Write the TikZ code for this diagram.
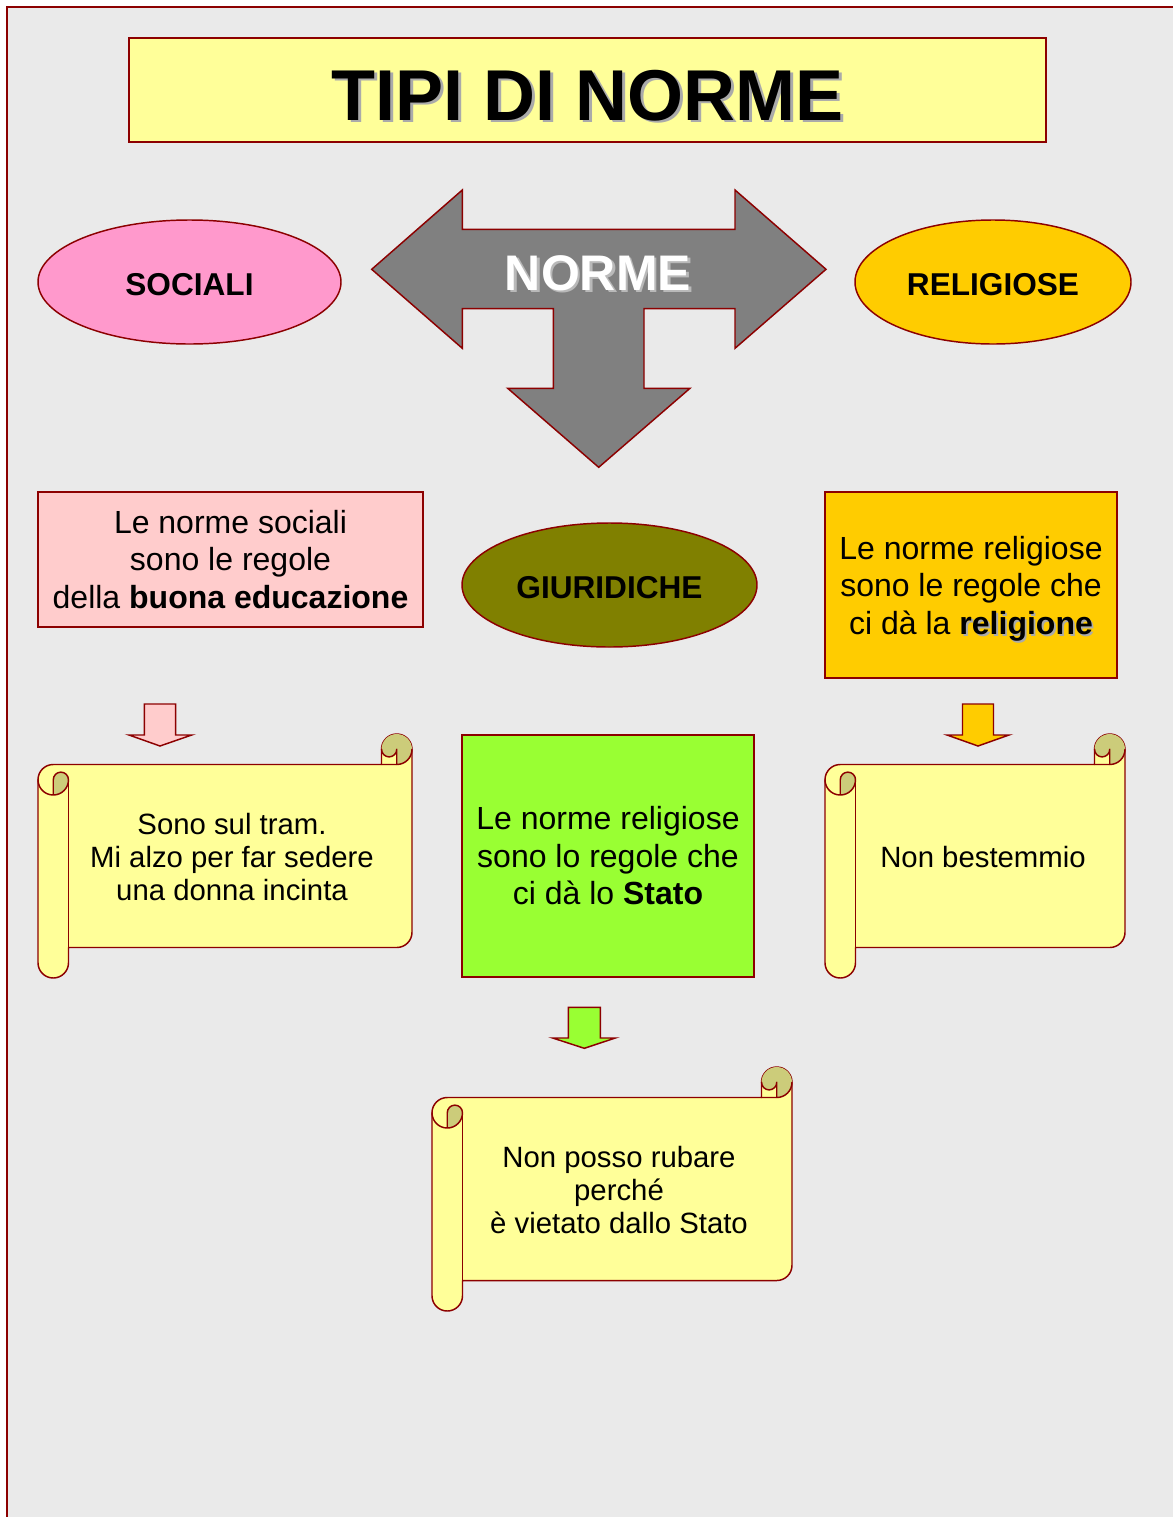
\documentclass[tikz,border=0pt]{standalone}
\usepackage{fontspec}
\setmainfont{Liberation Sans}
\usetikzlibrary{shapes.geometric}
\definecolor{dred}{RGB}{140,0,0}
\definecolor{bggray}{RGB}{234,234,234}
\definecolor{lyellow}{RGB}{255,255,153}
\definecolor{pinkell}{RGB}{255,153,204}
\definecolor{gold}{RGB}{255,204,0}
\definecolor{olivef}{RGB}{128,128,0}
\definecolor{pinkbox}{RGB}{255,204,204}
\definecolor{lgreen}{RGB}{153,255,51}
\definecolor{scrolldark}{RGB}{204,204,122}
\definecolor{normegray}{RGB}{128,128,128}
\definecolor{shadowA}{RGB}{170,170,170}
\definecolor{shadowB}{RGB}{185,185,185}
\newcommand\shd[3]{\makebox[0pt][l]{\kern#3\raisebox{-#3}[0pt][0pt]{\color{#2}#1}}#1}
\tikzset{
  outl/.style={draw=dred, line width=1.1pt, line join=miter},
  boxnode/.style={outl, rectangle, inner sep=0pt, align=center, font=\fontsize{24pt}{28.1pt}\selectfont},
  ellnode/.style={outl, ellipse, inner sep=0pt, text height=20pt, text depth=0pt, font=\fontsize{23.7pt}{28pt}\selectfont\bfseries},
  scrolltext/.style={align=center, inner sep=0pt, font=\fontsize{22pt}{25.1pt}\selectfont},
  scrollline/.style={draw=dred, line width=1.1pt, line join=round, line cap=round},
  blockarrow/.style={outl, line join=miter},
  pics/scroll/.style n args={4}{code={
    \pgfmathsetmacro\xa{#1+15.25}
    \pgfmathsetmacro\xb{#1+30.5}
    \pgfmathsetmacro\xc{#3-30.5}
    \pgfmathsetmacro\xd{#3-15.25}
    \pgfmathsetmacro\ya{#2+15.25}
    \pgfmathsetmacro\yb{#2+30.5}
    \pgfmathsetmacro\yc{#2+45.75}
    \pgfmathsetmacro\yd{#2+61}
    \pgfmathsetmacro\ye{#4-45.75}
    \pgfmathsetmacro\yf{#4-30.5}
    \pgfmathsetmacro\yg{#4-15.25}
    \path[fill=lyellow, scrollline]
      (#1,\yc) arc[start angle=180,end angle=270,radius=15.25]
      -- (\xc,\yb) -- (\xc,\ya) arc[start angle=180,end angle=360,radius=15.25]
      -- (#3,\ye) arc[start angle=0,end angle=90,radius=15.25]
      -- (\xb,\yf) -- (\xb,\yg) arc[start angle=0,end angle=180,radius=15.25]
      -- cycle;
    \fill[scrolldark] (\xa,\yd) arc[start angle=90,end angle=0,radius=15.25]
      arc[start angle=0,end angle=-180,radius=7.625] -- cycle;
    \fill[scrolldark] (\xd,\yb) arc[start angle=90,end angle=-180,radius=15.25]
      arc[start angle=180,end angle=0,radius=7.625] -- cycle;
    \draw[scrollline] (\xc,\yb) -- (\xd,\yb) arc[start angle=90,end angle=0,radius=15.25];
    \draw[scrollline] (\xd,\yb) -- (\xd,\ya) arc[start angle=0,end angle=180,radius=7.625];
    \draw[scrollline] (\xa,\yd) -- (\xa,\yc) arc[start angle=180,end angle=360,radius=7.625]
      arc[start angle=0,end angle=180,radius=15.25];
    \draw[scrollline] (\xb,\yc) -- (\xb,\yf);
  }}
}
\begin{document}
\begin{tikzpicture}[x=0.75pt, y=-0.75pt]
\useasboundingbox (0,0) rectangle (1173,1517);
\clip (0,0) rectangle (1173,1517);
\fill[white] (0,0) rectangle (1173,1517);
\path[fill=bggray, draw=dred, line width=1.6pt] (7,7) rectangle (1200,1540);

% title
\node[outl, line width=1.6pt, fill=lyellow, minimum width=917*0.75pt, minimum height=104*0.75pt, inner sep=0pt,
  text height=45pt, text depth=0pt,
  font=\fontsize{54pt}{60pt}\selectfont\bfseries] (title) at (587.5,90)
  {\shd{TIPI DI NORME}{shadowA}{2.2pt}};

% big three-way arrow
\path[fill=normegray, outl] (371.7,269.3) -- (462.3,190) -- (462.3,229.3) -- (735,229.3) -- (735,190)
  -- (826,269.3) -- (735,348.3) -- (735,308.7) -- (644,308.7) -- (644,388.3) -- (690,388.3)
  -- (598.7,467.3) -- (507.7,388.3) -- (553.3,388.3) -- (553.3,308.7) -- (462.3,308.7)
  -- (462.3,348.3) -- cycle;
\node[inner sep=0pt, font=\fontsize{37.5pt}{40pt}\selectfont\bfseries, text=white] (norme) at (598,273)
  {\shd{NORME}{shadowB}{2pt}};

% ellipses
\node[ellnode, fill=pinkell, minimum width=303*0.75pt, minimum height=124*0.75pt] (sociali) at (189.5,282) {SOCIALI};
\node[ellnode, fill=gold, minimum width=276*0.75pt, minimum height=124*0.75pt] (religiose) at (993,282) {RELIGIOSE};
\node[ellnode, fill=olivef, minimum width=295*0.75pt, minimum height=124*0.75pt] (giuridiche) at (609.5,585) {GIURIDICHE};

% definition boxes
\node[boxnode, fill=pinkbox, minimum width=385*0.75pt, minimum height=135*0.75pt] (defsoc) at (230.5,559.5)
  {Le norme sociali\\sono le regole\\della \textbf{buona educazione}};
\node[boxnode, fill=gold, minimum width=292*0.75pt, minimum height=186*0.75pt] (defrel) at (971,585)
  {\rule{0pt}{23pt}Le norme religiose\\sono le regole che\\ci dà la \textbf{\shd{religione}{shadowA}{1.4pt}}};
\node[boxnode, fill=lgreen, minimum width=292*0.75pt, minimum height=242*0.75pt] (defgiu) at (608,856)
  {Le norme religiose\\sono lo regole che\\ci dà lo \textbf{Stato}};

% small block arrows
\path[blockarrow, fill=pinkbox] (144.3,704) -- (175.7,704) -- (175.7,735) -- (191.7,735) -- (160,746) -- (129,735) -- (144.3,735) -- cycle;
\path[blockarrow, fill=gold] (962.5,704) -- (993.5,704) -- (993.5,735) -- (1009,735) -- (978,746) -- (947,735) -- (962.5,735) -- cycle;
\path[blockarrow, fill=lgreen] (568.3,1007.3) -- (600.3,1007.3) -- (600.3,1038) -- (615.3,1038) -- (584.3,1048.3) -- (552.7,1038) -- (568.3,1038) -- cycle;

% scrolls
\pic {scroll={38}{734}{412}{978}};
\pic {scroll={825}{734}{1125}{978}};
\pic {scroll={432}{1067}{792}{1311}};
\node[scrolltext] (exsoc) at (232,857) {Sono sul tram.\\Mi alzo per far sedere\\una donna incinta};
\node[scrolltext] (exrel) at (983,857) {Non bestemmio};
\node[scrolltext] (exgiu) at (619,1190) {Non posso rubare\\perché\\è vietato dallo Stato};
\end{tikzpicture}
\end{document}
